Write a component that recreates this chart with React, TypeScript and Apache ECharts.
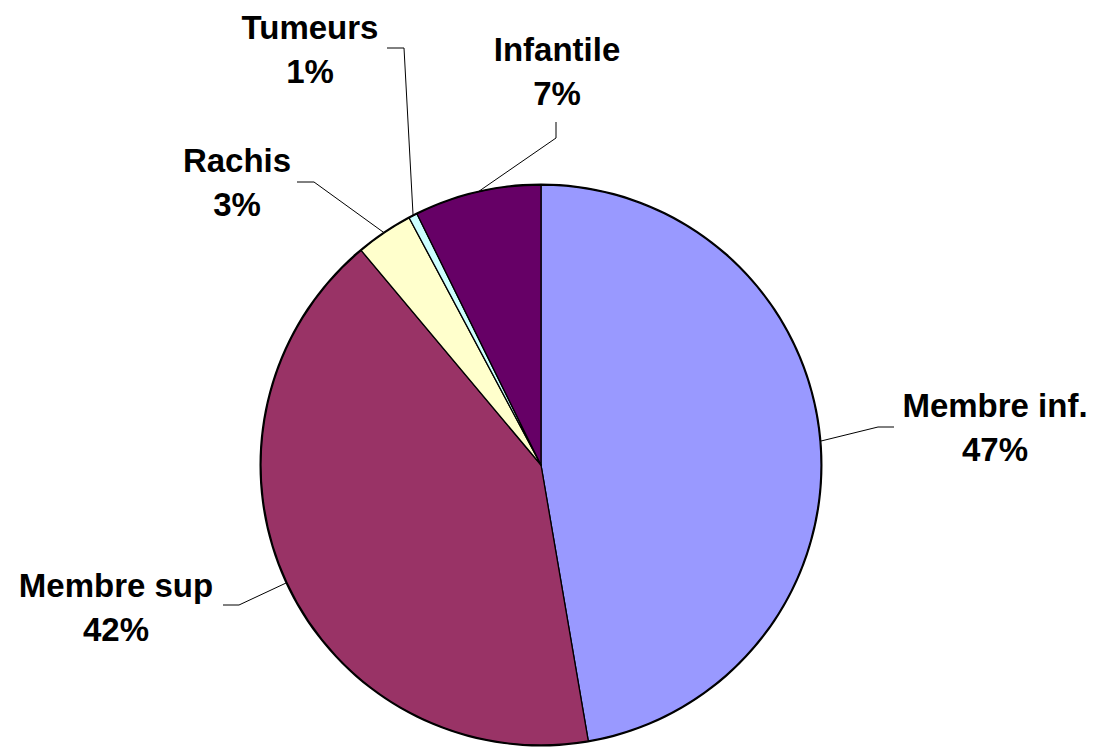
import React, { useEffect, useRef } from "react";
import * as echarts from "echarts";

const categories = ["Membre inf.", "Membre sup", "Rachis", "Tumeurs", "Infantile"];
const shares = [47.3, 41.6, 3.3, 0.5, 7.3];
const colors = ["#9999FF", "#993366", "#FFFFCC", "#CCFFFF", "#660066"];

// label placement (style): text block centers and leader-line elbow/end points
const labelCenters = [
  [995, 427],
  [116, 607],
  [237, 182],
  [310, 49],
  [557, 71],
];
const labelElbows = [
  [[878, 427], [894, 427]],
  [[239, 605], [223, 605]],
  [[314, 182], [297, 182]],
  [[404, 48], [387, 48]],
  [[556, 138], [556, 122]],
];

export default function App() {
  const ref = useRef<HTMLDivElement>(null);
  useEffect(() => {
    document.body.style.margin = "0";
    const chart = echarts.init(ref.current!, null, { renderer: "svg" });
    const data = categories.map((name, i) => ({
      name,
      value: shares[i],
      itemStyle: { color: colors[i] },
    }));
    chart.setOption({
      animation: false,
      backgroundColor: "#ffffff",
      series: [
        {
          type: "pie",
          silent: true,
          center: [541, 465],
          radius: 281.5,
          startAngle: 90,
          data: [{ name: "rim", value: 1, itemStyle: { color: "#000" } }],
          label: { show: false },
          labelLine: { show: false },
          z: 1,
        },
        {
          type: "pie",
          center: [541, 465],
          radius: 280,
          startAngle: 90,
          clockwise: true,
          avoidLabelOverlap: false,
          z: 2,
          itemStyle: { borderColor: "#000", borderWidth: 1.3 },
          data,
          label: {
            show: true,
            position: "outside",
            formatter: (p: any) => `${p.name}\n${Math.round(p.value)}%`,
            color: "#000",
            fontFamily: "Liberation Sans, Arial, sans-serif",
            fontWeight: "bold",
            fontSize: 33,
            lineHeight: 44,
            align: "center",
          },
          labelLine: {
            show: true,
            length: 20,
            length2: 20,
            lineStyle: { color: "#000", width: 1 },
          },
          labelLayout: (params: any) => {
            const i = params.dataIndex;
            const start = params.labelLinePoints ? params.labelLinePoints[0] : labelElbows[i][0];
            return {
              x: labelCenters[i][0],
              y: labelCenters[i][1],
              align: "center",
              verticalAlign: "middle",
              labelLinePoints: [start, labelElbows[i][0], labelElbows[i][1]],
            };
          },
        },
      ],
    });
    return () => chart.dispose();
  }, []);
  return (
    <div
      ref={ref}
      style={{ position: "fixed", left: 0, top: 0, width: 1102, height: 754 }}
    />
  );
}
